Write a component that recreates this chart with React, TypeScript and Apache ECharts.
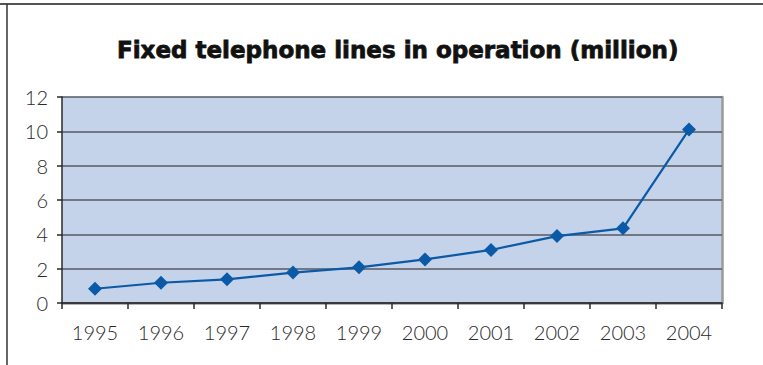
import React, { useEffect, useRef } from "react";
import * as echarts from "echarts";

const years = ["1995", "1996", "1997", "1998", "1999", "2000", "2001", "2002", "2003", "2004"];
const lines = [0.83, 1.18, 1.38, 1.77, 2.08, 2.54, 3.09, 3.9, 4.35, 10.1];
const titleText = "Fixed telephone lines in operation (million)";

export default function App() {
  const ref = useRef<HTMLDivElement>(null);
  useEffect(() => {
    const chart = echarts.init(ref.current!, undefined, { renderer: "svg" });
    const labelStyle = { color: "#2a2a2a", fontSize: 20, fontFamily: "Lato", fontWeight: 300 };
    chart.setOption({
      animation: false,
      backgroundColor: "#ffffff",
      title: {
        text: titleText,
        left: 112,
        top: 33,
        textStyle: {
          fontFamily: "DejaVu Sans",
          fontWeight: "bold",
          fontSize: 23,
          color: "#111111",
          textBorderColor: "#111111",
          textBorderWidth: 0.8,
        },
      },
      graphic: [
        { type: "line", shape: { x1: 0, y1: 4, x2: 763, y2: 4 }, style: { stroke: "#555555", lineWidth: 2 } },
        { type: "line", shape: { x1: 7, y1: 4, x2: 7, y2: 365 }, style: { stroke: "#333333", lineWidth: 1.5 } },
      ],
      grid: {
        left: 62,
        top: 97,
        right: 41,
        bottom: 62,
        show: true,
        backgroundColor: "#c5d3ea",
        borderWidth: 0,
      },
      xAxis: [
        {
          type: "category",
          data: years,
          boundaryGap: true,
          axisLine: { lineStyle: { color: "#2a2a2a", width: 1.5 } },
          axisTick: { show: true, length: 6, lineStyle: { color: "#2a2a2a", width: 1.5 } },
          axisLabel: { ...labelStyle, margin: 19 },
          splitLine: { show: false },
          z: 5,
        },
        {
          type: "category",
          data: years,
          position: "top",
          boundaryGap: true,
          axisLine: { show: true, lineStyle: { color: "#9a9a9a", width: 2.5 } },
          axisTick: { show: false },
          axisLabel: { show: false },
          splitLine: { show: false },
        },
      ],
      yAxis: [
        {
          type: "value",
          min: 0,
          max: 12,
          interval: 2,
          axisLine: { show: true, lineStyle: { color: "#2a2a2a", width: 1.5 } },
          axisTick: { show: true, length: 5, lineStyle: { color: "#2a2a2a", width: 1.5 } },
          axisLabel: { ...labelStyle, margin: 14 },
          splitLine: { show: true, lineStyle: { color: "#555a60", width: 1.5 } },
          z: 5,
        },
        {
          type: "value",
          min: 0,
          max: 12,
          interval: 2,
          position: "right",
          axisLine: { show: true, lineStyle: { color: "#9a9a9a", width: 2.5 } },
          axisTick: { show: false },
          axisLabel: { show: false },
          splitLine: { show: false },
        },
      ],
      series: [
        {
          type: "line",
          data: lines,
          symbol: "diamond",
          symbolSize: 14,
          lineStyle: { color: "#0a5aa8", width: 2.2 },
          itemStyle: { color: "#0a5aa8" },
          z: 10,
        },
      ],
    });
    return () => chart.dispose();
  }, []);
  return <div ref={ref} style={{ position: "fixed", left: 0, top: 0, width: 763, height: 365 }} />;
}
